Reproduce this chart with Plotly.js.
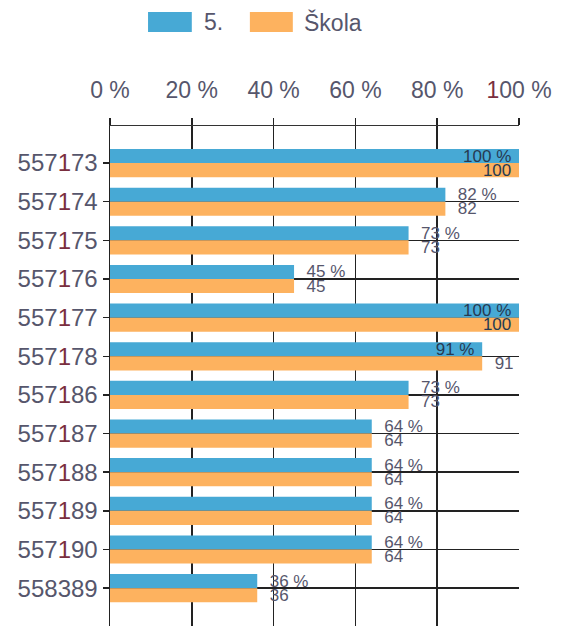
<!DOCTYPE html>
<html>
<head>
<meta charset="utf-8">
<script src="https://cdn.plot.ly/plotly-3.0.1.min.js"></script>
<style>html,body{margin:0;padding:0;background:#fff;}#chart{width:563px;height:626px;}</style>
</head>
<body>
<div id="chart"></div>
<script>
const categories = ['557173','557174','557175','557176','557177','557178','557186','557187','557188','557189','557190','558389'];
const classValues = [100, 82, 73, 45, 100, 91, 73, 64, 64, 64, 64, 36];
const schoolValues = [100, 82, 73, 45, 100, 91, 73, 64, 64, 64, 64, 36];
const seriesNames = ['5.', 'Škola'];
const xTickVals = [0, 20, 40, 60, 80, 100];
const xTickLabels = ['0 %', '20 %', '40 %', '60 %', '80 %', '100 %'];

const BLUE = '#47a9d5';
const ORANGE = '#fdb25f';
const TXT = '#56566c';
const ONE = '#7a2e3e';
const INSIDE_TXT = '#263a52';
const FONT = 'Liberation Sans, Arial, sans-serif';
const NB = '\u00a0';

function colorOnes(s) { return s.replace(/1/g, '<span style="color:' + ONE + '">1</span>'); }

function labelSet(values, suffix, insideMin) {
  const inside = values.map(v => v >= insideMin);
  return {
    text: values.map((v, i) => inside[i] ? (v + suffix + NB) : (NB + NB + v + suffix)),
    textposition: inside.map(f => f ? 'inside' : 'outside'),
    color: inside.map(f => f ? INSIDE_TXT : TXT)
  };
}
const blueLabels = labelSet(classValues, ' %', 90);
const orangeLabels = labelSet(schoolValues, '', 100);

const traces = [
  {
    type: 'bar', orientation: 'h', name: seriesNames[0],
    y: categories, x: classValues,
    marker: {color: BLUE},
    text: blueLabels.text,
    textposition: blueLabels.textposition,
    insidetextanchor: 'end',
    textfont: {family: FONT, size: 17, color: blueLabels.color},
    constraintext: 'none', cliponaxis: false, hoverinfo: 'x+y'
  },
  {
    type: 'bar', orientation: 'h', name: seriesNames[1],
    y: categories, x: schoolValues,
    marker: {color: ORANGE},
    text: orangeLabels.text,
    textposition: orangeLabels.textposition,
    insidetextanchor: 'end',
    textfont: {family: FONT, size: 17, color: orangeLabels.color},
    constraintext: 'none', cliponaxis: false, hoverinfo: 'x+y'
  }
];

const layout = {
  width: 563, height: 626,
  margin: {l: 110, r: 44, t: 126, b: 0},
  paper_bgcolor: '#fff', plot_bgcolor: '#fff',
  barmode: 'group', bargap: 0.27, bargroupgap: 0,
  showlegend: false,
  font: {family: FONT, color: TXT},
  xaxis: {
    side: 'top', range: [0, 100], fixedrange: true,
    tickvals: xTickVals, ticktext: xTickLabels.map(colorOnes),
    tickfont: {family: FONT, size: 23, color: TXT},
    ticks: 'outside', ticklen: 7, tickcolor: '#222', tickwidth: 1.5,
    ticklabelstandoff: 10,
    showgrid: true, gridcolor: '#222', gridwidth: 1.5,
    showline: true, linecolor: '#333', linewidth: 1.5,
    zeroline: false
  },
  yaxis: {
    type: 'category', range: [11.98, -0.96], fixedrange: true,
    tickvals: categories, ticktext: categories.map(colorOnes),
    tickfont: {family: FONT, size: 24, color: TXT},
    ticks: 'outside', ticklen: 6, tickcolor: '#222', tickwidth: 1.5,
    showgrid: true, gridcolor: '#222', gridwidth: 1.5,
    showline: true, linecolor: '#222', linewidth: 1.5,
    zeroline: false
  },
  shapes: [
    {type: 'rect', xref: 'paper', yref: 'paper', x0: 0.093, x1: 0.2, y0: 1.188, y1: 1.228, fillcolor: BLUE, line: {width: 0}},
    {type: 'rect', xref: 'paper', yref: 'paper', x0: 0.342, x1: 0.447, y0: 1.188, y1: 1.228, fillcolor: ORANGE, line: {width: 0}}
  ],
  annotations: [
    {xref: 'paper', yref: 'paper', x: 0.225, y: 1.208, xanchor: 'left', yanchor: 'middle', text: seriesNames[0], showarrow: false, font: {family: FONT, size: 23, color: TXT}},
    {xref: 'paper', yref: 'paper', x: 0.47, y: 1.208, xanchor: 'left', yanchor: 'middle', text: seriesNames[1], showarrow: false, font: {family: FONT, size: 23, color: TXT}}
  ]
};

Plotly.newPlot('chart', traces, layout, {displayModeBar: false, staticPlot: true});
</script>
</body>
</html>
